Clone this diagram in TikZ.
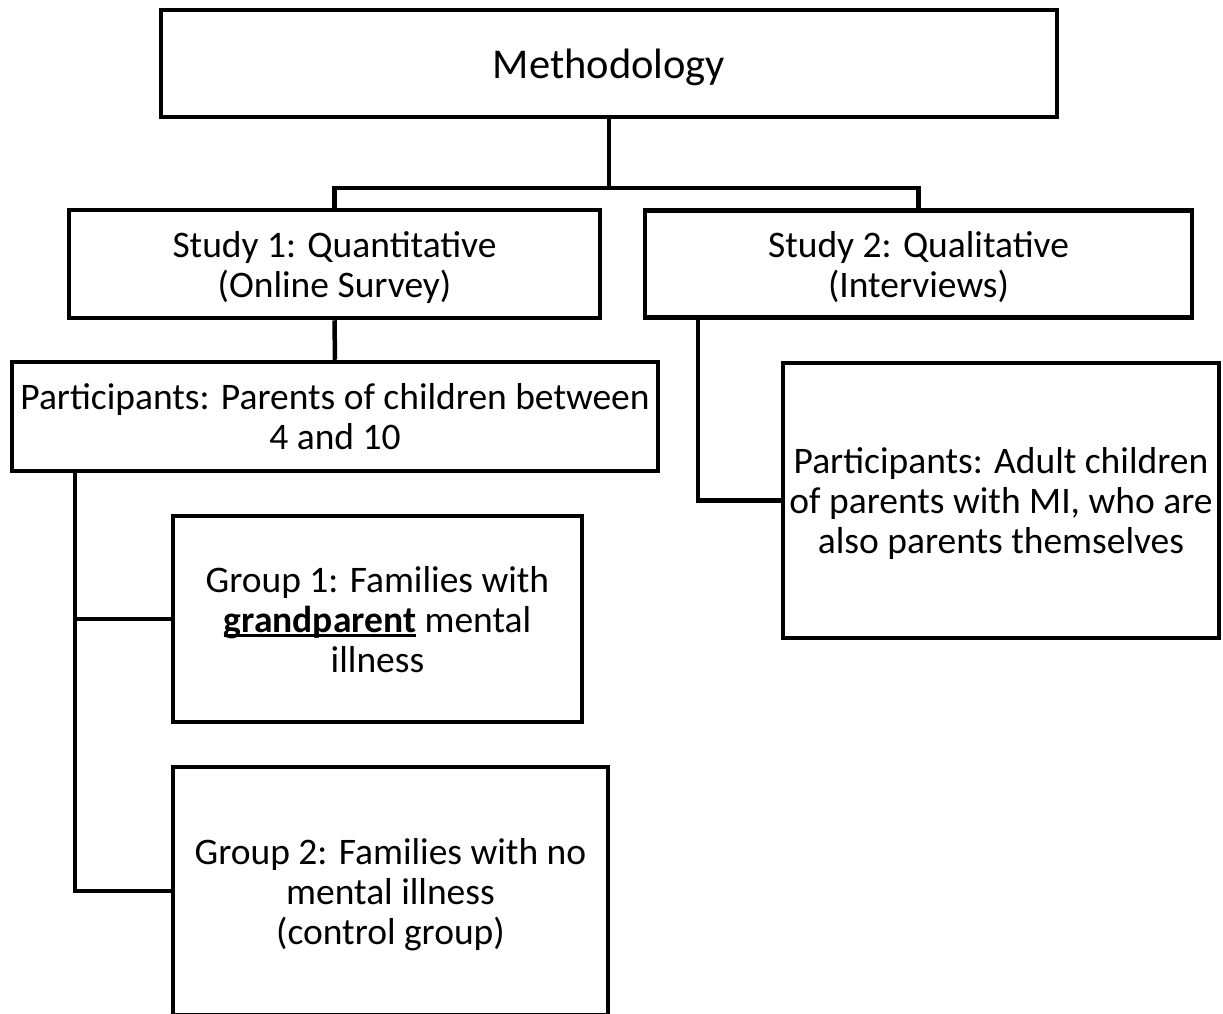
\documentclass[tikz,border=0pt]{standalone}
\usepackage{fontspec}
\setmainfont{Carlito}
\newcommand\ulword[1]{\setbox0\hbox{#1}\rlap{\rule[-4.5pt]{\wd0}{2.5pt}}\box0\relax}
\begin{document}
\begin{tikzpicture}[x=1pt,y=-1pt,
  box/.style={draw=black,line width=4.5pt,fill=white,inner sep=0pt,align=center,
    text depth=0pt,font=\fontsize{37.5}{40}\selectfont},
  conn/.style={draw=black,line width=4.5pt}]
\useasboundingbox (0,0) rectangle (1223,1013);
\node[box,minimum width=896pt,minimum height=107pt,font=\fontsize{42.5}{45}\selectfont] (meth) at (609,63.5) {Methodology};
\node[box,minimum width=531pt,minimum height=108pt] (s1) at (334.5,264) {Study 1: Quantitative\\(Online Survey)};
\node[box,minimum width=547pt,minimum height=107pt] (s2) at (918.5,264) {Study 2: Qualitative\\(Interviews)};
\node[box,minimum width=646pt,minimum height=109pt] (p1) at (335,416.5) {Participants: Parents of children between\\4 and 10};
\node[box,minimum width=436pt,minimum height=275pt] (p2) at (1001,500.5) {Participants: Adult children\\of parents with MI, who are\\also parents themselves};
\node[box,minimum width=409pt,minimum height=206pt] (g1) at (377.5,619) {Group 1: Families with\\\ulword{\textbf{grandparent}} mental\\illness};
\node[box,minimum width=435pt,minimum height=248pt] (g2) at (390.5,891) {Group 2: Families with no\\mental illness\\(control group)};
\coordinate (j) at (609,188);
\coordinate (pb) at ([xshift=65pt]p1.south west);
\coordinate (sb) at ([xshift=55pt]s2.south west);
\draw[conn] (meth.south) -- (meth.south |- j);
\draw[conn] (s1.north) -- (s1.north |- j) -- (s2.north |- j) -- (s2.north);
\draw[conn] (s1.south) -- (p1.north);
\draw[conn] (sb) |- (p2.west);
\draw[conn] (pb) |- (g2.west);
\draw[conn] (g1.west) -- (g1.west -| pb);
\end{tikzpicture}
\end{document}
